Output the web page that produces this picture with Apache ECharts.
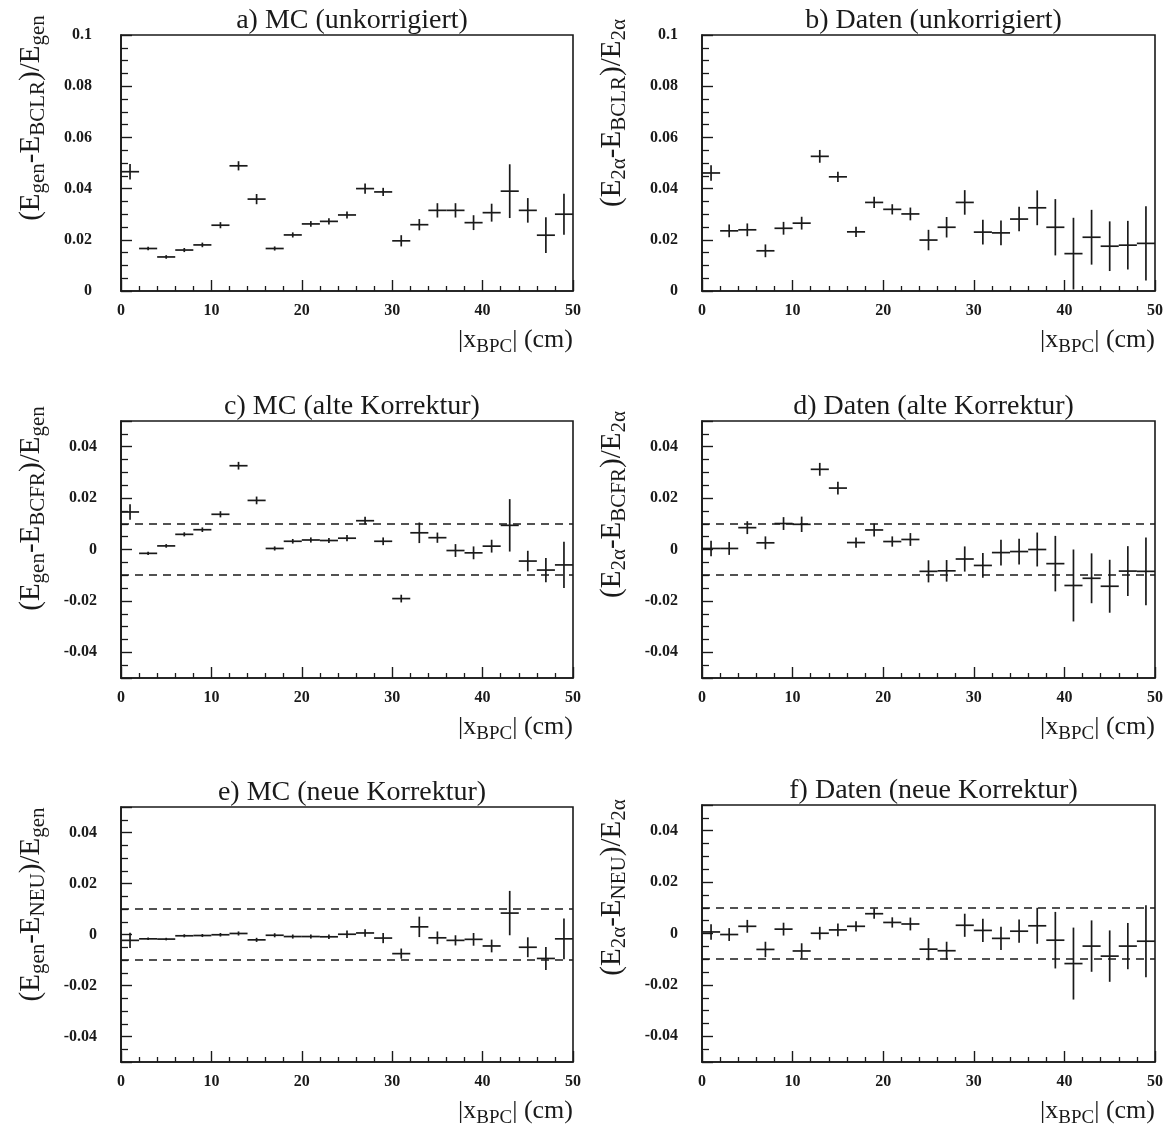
<!DOCTYPE html>
<html>
<head>
<meta charset="utf-8">
<script src="https://cdn.jsdelivr.net/npm/echarts@6/dist/echarts.min.js"></script>
<style>
  html, body { margin: 0; padding: 0; background: #ffffff; }
  #chart { width: 1168px; height: 1128px; }
</style>
</head>
<body>
<div id="chart"></div>
<script>
// Bin centres of |x_BPC| (cm); each bin is 2 cm wide
const binCenters = [1, 3, 5, 7, 9, 11, 13, 15, 17, 19, 21, 23, 25, 27, 29, 31, 33, 35, 37, 39, 41, 43, 45, 47, 49];
const binHalfWidth = 1;

// a) MC, uncorrected
const mcUncorrected    = [0.0466, 0.0166, 0.0133, 0.0160, 0.0180, 0.0257, 0.0489, 0.0359, 0.0166, 0.0219, 0.0262, 0.0272, 0.0297, 0.0400, 0.0387, 0.0196, 0.0259, 0.0315, 0.0315, 0.0267, 0.0306, 0.0390, 0.0315, 0.0218, 0.0300];
const mcUncorrectedErr = [0.0030, 0.0007, 0.0007, 0.0008, 0.0009, 0.0012, 0.0018, 0.0020, 0.0008, 0.0010, 0.0011, 0.0012, 0.0014, 0.0020, 0.0016, 0.0022, 0.0022, 0.0028, 0.0028, 0.0029, 0.0035, 0.0105, 0.0048, 0.0070, 0.0080];

// b) data, uncorrected
const dataUncorrected    = [0.0461, 0.0235, 0.0239, 0.0157, 0.0245, 0.0265, 0.0526, 0.0446, 0.0231, 0.0346, 0.0319, 0.0301, 0.0199, 0.0249, 0.0346, 0.0230, 0.0227, 0.0281, 0.0325, 0.0249, 0.0146, 0.0210, 0.0175, 0.0179, 0.0186];
const dataUncorrectedErr = [0.0030, 0.0025, 0.0025, 0.0025, 0.0025, 0.0025, 0.0025, 0.0020, 0.0020, 0.0022, 0.0020, 0.0025, 0.0040, 0.0040, 0.0048, 0.0048, 0.0048, 0.0048, 0.0068, 0.0110, 0.0140, 0.0107, 0.0097, 0.0095, 0.0145];

// c) MC, old correction
const mcOldCorr    = [0.0146, -0.0015, 0.0014, 0.0059, 0.0077, 0.0137, 0.0326, 0.0191, 0.0004, 0.0032, 0.0037, 0.0035, 0.0044, 0.0112, 0.0032, -0.0191, 0.0065, 0.0046, -0.0004, -0.0013, 0.0013, 0.0094, -0.0045, -0.0080, -0.0060];
const mcOldCorrErr = [0.0030, 0.0006, 0.0007, 0.0008, 0.0009, 0.0012, 0.0015, 0.0015, 0.0008, 0.0009, 0.0010, 0.0010, 0.0012, 0.0015, 0.0015, 0.0015, 0.0040, 0.0020, 0.0025, 0.0025, 0.0025, 0.0102, 0.0040, 0.0047, 0.0090];

// d) data, old correction
const dataOldCorr    = [0.0004, 0.0004, 0.0085, 0.0026, 0.0101, 0.0098, 0.0312, 0.0239, 0.0027, 0.0076, 0.0031, 0.0039, -0.0085, -0.0083, -0.0037, -0.0062, -0.0012, -0.0008, 0.0000, -0.0055, -0.0140, -0.0112, -0.0143, -0.0084, -0.0085];
const dataOldCorrErr = [0.0030, 0.0025, 0.0025, 0.0025, 0.0025, 0.0030, 0.0025, 0.0025, 0.0020, 0.0025, 0.0020, 0.0025, 0.0043, 0.0042, 0.0049, 0.0048, 0.0050, 0.0050, 0.0066, 0.0108, 0.0140, 0.0097, 0.0103, 0.0097, 0.0132];

// e) MC, new correction
const mcNewCorr    = [-0.0023, -0.0017, -0.0018, -0.0005, -0.0004, -0.0001, 0.0004, -0.0021, -0.0003, -0.0008, -0.0008, -0.0009, 0.0001, 0.0006, -0.0014, -0.0075, 0.0030, -0.0013, -0.0023, -0.0019, -0.0045, 0.0084, -0.0050, -0.0094, -0.0017];
const mcNewCorrErr = [0.0030, 0.0005, 0.0005, 0.0006, 0.0006, 0.0007, 0.0008, 0.0008, 0.0008, 0.0008, 0.0008, 0.0009, 0.0015, 0.0015, 0.0020, 0.0020, 0.0040, 0.0025, 0.0020, 0.0025, 0.0025, 0.0087, 0.0039, 0.0045, 0.0080];

// f) data, new correction
const dataNewCorr    = [0.0006, -0.0004, 0.0028, -0.0062, 0.0017, -0.0068, 0.0001, 0.0014, 0.0028, 0.0077, 0.0043, 0.0037, -0.0061, -0.0067, 0.0032, 0.0012, -0.0019, 0.0009, 0.0030, -0.0026, -0.0117, -0.0049, -0.0088, -0.0049, -0.0030];
const dataNewCorrErr = [0.0030, 0.0025, 0.0025, 0.0030, 0.0025, 0.0030, 0.0025, 0.0025, 0.0020, 0.0020, 0.0020, 0.0025, 0.0043, 0.0035, 0.0045, 0.0045, 0.0045, 0.0045, 0.0070, 0.0110, 0.0140, 0.0100, 0.0100, 0.0090, 0.0140];

// Axis ranges and tick labels
const xRange = [0, 50];
const xTickStep = 10;
const uncorrectedRange = [0, 0.1];
const uncorrectedTickStep = 0.02;
const correctedRange = [-0.05, 0.05];
const toleranceBand = [0.01, -0.01];

const SERIF = 'Liberation Serif';
const INK = '#1a1a1a';

const panels = [
  { title: 'a) MC (unkorrigiert)',
    yName: '{n|(E}{s|gen}{n|-E}{s|BCLR}{n|)/E}{s|gen}',
    values: mcUncorrected, errors: mcUncorrectedErr, corrected: false,
    box: { left: 121, top: 35, width: 452, height: 256 }, nameShift: 45, labelMargin: 29 },
  { title: 'b) Daten (unkorrigiert)',
    yName: '{n|(E}{s|2α}{n|-E}{s|BCLR}{n|)/E}{s|2α}',
    values: dataUncorrected, errors: dataUncorrectedErr, corrected: false,
    box: { left: 702, top: 35, width: 453, height: 256 }, nameShift: 50, labelMargin: 24 },
  { title: 'c) MC (alte Korrektur)',
    yName: '{n|(E}{s|gen}{n|-E}{s|BCFR}{n|)/E}{s|gen}',
    values: mcOldCorr, errors: mcOldCorrErr, corrected: true,
    box: { left: 121, top: 421, width: 452, height: 257 }, nameShift: 41, labelMargin: 24 },
  { title: 'd) Daten (alte Korrektur)',
    yName: '{n|(E}{s|2α}{n|-E}{s|BCFR}{n|)/E}{s|2α}',
    values: dataOldCorr, errors: dataOldCorrErr, corrected: true,
    box: { left: 702, top: 421, width: 453, height: 257 }, nameShift: 45, labelMargin: 24 },
  { title: 'e) MC (neue Korrektur)',
    yName: '{n|(E}{s|gen}{n|-E}{s|NEU}{n|)/E}{s|gen}',
    values: mcNewCorr, errors: mcNewCorrErr, corrected: true,
    box: { left: 121, top: 807, width: 452, height: 257 }, nameShift: 30, labelMargin: 24 },
  { title: 'f) Daten (neue Korrektur)',
    yName: '{n|(E}{s|2α}{n|-E}{s|NEU}{n|)/E}{s|2α}',
    values: dataNewCorr, errors: dataNewCorrErr, corrected: true,
    box: { left: 702, top: 805, width: 453, height: 258 }, nameShift: 46, labelMargin: 24 }
];

const nameRich = {
  n: { fontFamily: SERIF, fontSize: 29, color: INK },
  s: { fontFamily: SERIF, fontSize: 21, color: INK, padding: [15, 0, 0, 0] }
};
const xNameRich = {
  n: { fontFamily: SERIF, fontSize: 26, color: INK },
  s: { fontFamily: SERIF, fontSize: 19, color: INK, padding: [14, 0, 0, 0] }
};

// Draws one histogram bin: horizontal bar across the bin, vertical bar for the error
function renderErrorCross(params, api) {
  const x = api.value(0), y = api.value(1), e = api.value(2);
  const l = api.coord([x - binHalfWidth, y]);
  const r = api.coord([x + binHalfWidth, y]);
  const t = api.coord([x, y + e]);
  const b = api.coord([x, y - e]);
  const style = { stroke: INK, lineWidth: 1.7 };
  const cs = params.coordSys;
  return {
    type: 'group',
    clipPath: { type: 'rect', shape: { x: cs.x, y: cs.y, width: cs.width, height: cs.height } },
    children: [
      { type: 'line', shape: { x1: l[0], y1: l[1], x2: r[0], y2: r[1] }, style },
      { type: 'line', shape: { x1: t[0], y1: t[1], x2: b[0], y2: b[1] }, style }
    ]
  };
}

const option = {
  backgroundColor: '#ffffff',
  animation: false,
  title: [],
  grid: [],
  xAxis: [],
  yAxis: [],
  series: []
};

const tickLabel = { fontFamily: SERIF, fontWeight: 'bold', fontSize: 16, color: INK };

panels.forEach((p, i) => {
  option.grid.push({
    left: p.box.left, top: p.box.top, width: p.box.width, height: p.box.height,
    show: true, borderColor: INK, borderWidth: 1.6, containLabel: false
  });

  option.title.push({
    text: p.title,
    left: p.box.left + p.box.width / 2,
    top: p.box.top - 33,
    textAlign: 'center',
    textStyle: { fontFamily: SERIF, fontWeight: 'normal', fontSize: 28, color: INK }
  });

  option.xAxis.push({
    type: 'value', gridIndex: i,
    min: xRange[0], max: xRange[1], interval: xTickStep,
    axisLine: { show: true, onZero: false, lineStyle: { color: INK, width: 1.6 } },
    axisTick: { show: true, inside: true, length: 11, lineStyle: { color: INK, width: 1.4 } },
    minorTick: { show: true, splitNumber: 5, length: 5, lineStyle: { color: INK, width: 1.3 } },
    splitLine: { show: false },
    minorSplitLine: { show: false },
    axisLabel: Object.assign({ margin: 12, showMinLabel: true, showMaxLabel: true }, tickLabel),
    name: '{n||x}{s|BPC}{n|| (cm)}',
    nameLocation: 'end',
    nameGap: 0,
    nameMoveOverlap: false,
    nameTextStyle: { align: 'right', verticalAlign: 'top', padding: [33, 0, 0, 0], rich: xNameRich }
  });

  const yAxis = {
    type: 'value', gridIndex: i,
    axisLine: { show: true, onZero: false, lineStyle: { color: INK, width: 1.6 } },
    axisTick: { show: true, inside: true, length: 11, lineStyle: { color: INK, width: 1.4 } },
    minorTick: { show: true, splitNumber: 4, length: 7, lineStyle: { color: INK, width: 1.3 } },
    splitLine: { show: false },
    minorSplitLine: { show: false },
    name: p.yName,
    nameLocation: 'middle',
    nameRotate: 90,
    nameGap: 72,
    nameMoveOverlap: false,
    nameTextStyle: { rich: nameRich, padding: [0, 0, 0, p.nameShift * 2] }
  };
  if (p.corrected) {
    yAxis.min = correctedRange[0];
    yAxis.max = correctedRange[1];
    yAxis.axisLabel = Object.assign({ margin: p.labelMargin, showMinLabel: false, showMaxLabel: false }, tickLabel);
  } else {
    yAxis.min = uncorrectedRange[0];
    yAxis.max = uncorrectedRange[1];
    yAxis.interval = uncorrectedTickStep;
    yAxis.axisLabel = Object.assign({ margin: p.labelMargin }, tickLabel);
  }
  option.yAxis.push(yAxis);

  const series = {
    type: 'custom',
    xAxisIndex: i, yAxisIndex: i,
    renderItem: renderErrorCross,
    encode: { x: 0, y: 1 },
    data: binCenters.map((x, k) => [x, p.values[k], p.errors[k]]),
    silent: true
  };
  if (p.corrected) {
    series.markLine = {
      silent: true,
      symbol: 'none',
      label: { show: false },
      lineStyle: { color: INK, width: 1.5, type: [8, 6] },
      data: toleranceBand.map(v => ({ yAxis: v }))
    };
  }
  option.series.push(series);
});

const chart = echarts.init(document.getElementById('chart'), null, { renderer: 'canvas' });
chart.setOption(option);
</script>
</body>
</html>
